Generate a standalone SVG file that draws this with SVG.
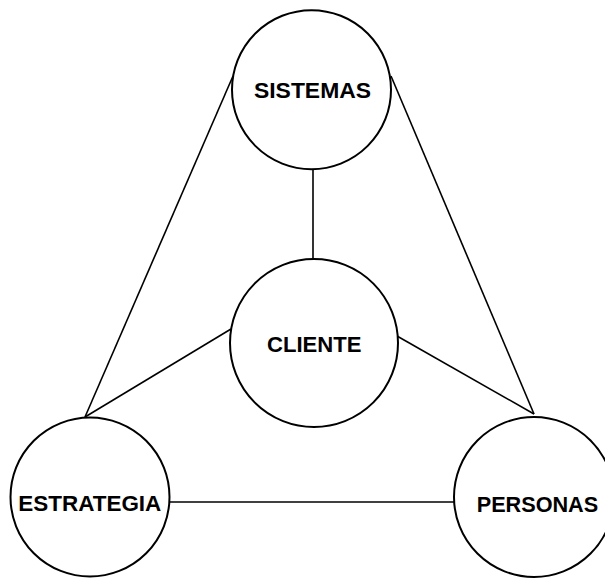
<svg xmlns="http://www.w3.org/2000/svg" width="605" height="578" viewBox="0 0 605 578">
  <style>
    .node circle { fill: #ffffff; stroke: #000000; stroke-width: 2; }
    .node text { font-family: "Liberation Sans", Arial, sans-serif; font-weight: bold; font-size: 22px; fill: #000000; }
    .links line { stroke: #000000; stroke-width: 1.6; }
  </style>
  <rect width="605" height="578" fill="#ffffff"/>
  <g id="connectors" class="links">
    <line x1="313" y1="170" x2="313" y2="260"/>
    <line x1="233" y1="76" x2="85" y2="417"/>
    <line x1="391" y1="76" x2="534" y2="414"/>
    <line x1="231" y1="329" x2="85" y2="417"/>
    <line x1="397" y1="336" x2="534" y2="414"/>
    <line x1="170" y1="502" x2="454" y2="502"/>
  </g>
  <g id="node-sistemas" class="node">
    <circle cx="311.5" cy="89.7" r="79.5"/>
    <text x="254" y="98.3" textLength="117" lengthAdjust="spacingAndGlyphs">SISTEMAS</text>
  </g>
  <g id="node-cliente" class="node">
    <circle cx="314" cy="343" r="84"/>
    <text x="267" y="351.5" textLength="94.5" lengthAdjust="spacingAndGlyphs">CLIENTE</text>
  </g>
  <g id="node-estrategia" class="node">
    <circle cx="90" cy="497" r="79.5"/>
    <text x="18.3" y="510.5" textLength="143" lengthAdjust="spacingAndGlyphs">ESTRATEGIA</text>
  </g>
  <g id="node-personas" class="node">
    <circle cx="534" cy="497" r="80"/>
    <text x="476.7" y="511.5" textLength="121.5" lengthAdjust="spacingAndGlyphs">PERSONAS</text>
  </g>
</svg>
